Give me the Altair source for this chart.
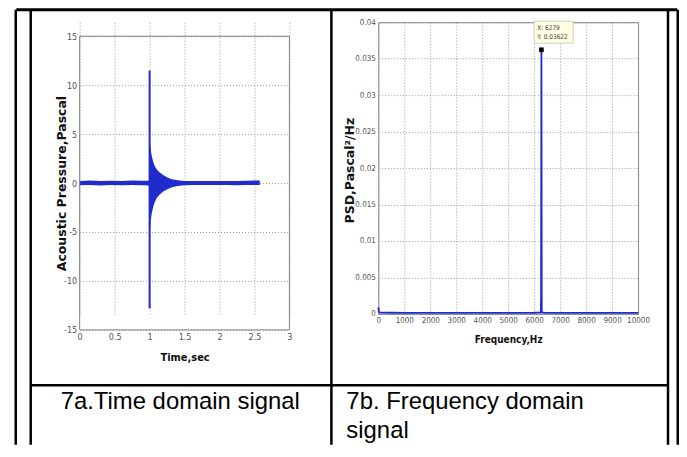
import altair as alt
import pandas as pd

# ---------------- data ----------------
# 7a: acoustic pressure envelope (time, upper, lower)
sig_t = [0.00, 0.15, 0.30, 0.45, 0.60, 0.75, 0.90, 0.995, 1.000, 1.005, 1.015, 1.03, 1.05, 1.07,
         1.10, 1.14, 1.20, 1.26, 1.32, 1.40, 1.50, 1.65, 1.80, 1.95, 2.10, 2.25, 2.40, 2.50, 2.576]
sig_hi = [0.22, 0.25, 0.21, 0.24, 0.22, 0.25, 0.23, 0.24, 5.5, 4.3, 3.5, 2.8, 2.2, 1.8,
          1.4, 1.1, 0.8, 0.55, 0.4, 0.28, 0.22, 0.20, 0.21, 0.20, 0.22, 0.21, 0.24, 0.26, 0.25]
sig_lo = [-0.22, -0.20, -0.24, -0.21, -0.23, -0.20, -0.22, -0.24, -6.0, -4.8, -3.9, -3.1, -2.5, -2.0,
          -1.55, -1.2, -0.85, -0.6, -0.42, -0.3, -0.22, -0.20, -0.21, -0.19, -0.20, -0.22, -0.20, -0.21, -0.20]
spike_t = [1.0]
spike_hi = [11.5]
spike_lo = [-12.8]

# 7b: power spectral density
psd_f = [0, 20, 40, 500, 1000, 2000, 3000, 4000, 5000, 6000, 6255, 6266, 6279, 6292,
         6400, 7000, 8000, 9000, 10000]
psd_v = [0.0009, 0.0003, 0.00018, 0.00016, 0.00015, 0.00015, 0.00015, 0.00015, 0.00015, 0.00016,
         0.0002, 0.0022, 0.03622, 0.0002, 0.00016, 0.00015, 0.00015, 0.00015, 0.00015]
peak_f = [6279]
peak_v = [0.03622]

time_dom = [0, 3]
amp_dom = [-15, 15]
freq_dom = [0, 10000]
psd_dom = [0, 0.04]
time_ticks = [0, 0.5, 1, 1.5, 2, 2.5, 3]
amp_ticks = [-15, -10, -5, 0, 5, 10, 15]
freq_ticks = [0, 1000, 2000, 3000, 4000, 5000, 6000, 7000, 8000, 9000, 10000]
psd_ticks = [0, 0.005, 0.01, 0.015, 0.02, 0.025, 0.03, 0.035, 0.04]

captions = ["7a.Time domain signal", "7b. Frequency domain", "signal"]
tip_lines = ["X: %d" % peak_f[0], "Y: %s" % peak_v[0]]

# ---------------- style ----------------
BLUE = "#1f2bcc"
NARROW = "DejaVu Sans Condensed, Liberation Sans Narrow, sans-serif"
WIDE = "DejaVu Sans, Verdana, sans-serif"
CAPFONT = "Liberation Sans, Arial, sans-serif"
BOX = "#808080"

sig_df = pd.DataFrame({"t": sig_t, "hi": sig_hi, "lo": sig_lo})
spike_df = pd.DataFrame({"t": spike_t, "hi": spike_hi, "lo": spike_lo})
psd_df = pd.DataFrame({"f": psd_f, "p": psd_v})
peak_df = pd.DataFrame({"f": peak_f, "p": peak_v})
one = pd.DataFrame({"k": [0]})


def axis(values, title, label_size, title_font, title_size, **kw):
    return alt.Axis(values=values, tickCount=len(values) + 2, title=title,
                    labelExpr="datum.value + ''", labelFont=NARROW,
                    labelFontSize=label_size, labelColor="#555555", labelPadding=3,
                    labelOverlap=False, labelFlush=False, ticks=False, domain=False,
                    grid=True, gridColor="#9a9a9a", gridDash=[1, 2], gridWidth=1,
                    titleFont=title_font, titleFontSize=title_size, titleFontWeight="bold",
                    titleColor="#111111", titleBaseline="middle", titleAlign="center", **kw)


def hline(y, x1, x2, w=2.5):
    return alt.Chart(one).mark_rule(color="black", strokeWidth=w, strokeCap="butt").encode(
        x=alt.value(x1), x2=alt.value(x2), y=alt.value(y))


def vline(x, y1, y2, w=2.5):
    return alt.Chart(one).mark_rule(color="black", strokeWidth=w, strokeCap="butt").encode(
        x=alt.value(x), y=alt.value(y1), y2=alt.value(y2))


def caption(txt, x, y):
    return alt.Chart(one).mark_text(align="left", baseline="alphabetic", font=CAPFONT,
                                    fontSize=23.9, color="black").encode(
        x=alt.value(x), y=alt.value(y), text=alt.value(txt))


# ---------------- left panel (7a) ----------------
# plot frame spans pixels 14..308 of a 308 px tall view (aligned 14 px below panel 7b)
xl = alt.X("t:Q", scale=alt.Scale(domain=time_dom, nice=False, zero=False),
           axis=axis(time_ticks, "Time,sec", 9, NARROW, 11, titleY=27.5))
yl = alt.Y("hi:Q", scale=alt.Scale(domain=amp_dom, nice=False, range=[308, 14]),
           axis=axis(amp_ticks, "Acoustic Pressure,Pascal", 9, WIDE, 12.5,
                     titleAngle=270, titleX=-18, titleY=161))

frame = alt.Chart(one).mark_rect(fillOpacity=0, stroke=BOX, strokeWidth=1).encode(
    x=alt.datum(time_dom[0]), x2=alt.datum(time_dom[1]),
    y=alt.datum(amp_dom[0]), y2=alt.datum(amp_dom[1]))
area = alt.Chart(sig_df).mark_area(color=BLUE, opacity=1, interpolate="linear").encode(
    x=xl, y=yl, y2="lo:Q")
spike = alt.Chart(spike_df).mark_rule(color=BLUE, strokeWidth=2).encode(
    x="t:Q", y="hi:Q", y2="lo:Q")

# table grid (pixel positions relative to the left plot origin)
TOP, BOT = -12.5, 423
table = [
    hline(TOP, -63.5, 598.25, 3),
    vline(-64, TOP, BOT),
    vline(598.75, TOP, BOT),
    vline(-49, TOP, BOT),
    vline(252, TOP, BOT),
    vline(589, TOP, BOT),
    hline(363.5, -49, 589),
    caption(captions[0], -19, 387),
    caption(captions[1], 267, 387),
    caption(captions[2], 267, 416),
]

left = alt.layer(area, spike, frame, *table).properties(
    width=210, height=308, view=alt.ViewBackground(strokeOpacity=0))

# ---------------- right panel (7b) ----------------
xr = alt.X("f:Q", scale=alt.Scale(domain=freq_dom, nice=False, zero=False),
           axis=axis(freq_ticks, "Frequency,Hz", 8, NARROW, 10, titleY=26))
yr = alt.Y("p:Q", scale=alt.Scale(domain=psd_dom, nice=False),
           axis=axis(psd_ticks, "PSD,Pascal\u00b2/Hz", 8, WIDE, 12.5,
                     titleAngle=270, titleX=-29, titleY=148))

psd_line = alt.Chart(psd_df).mark_line(color=BLUE, strokeWidth=1.8).encode(x=xr, y=yr)
marker = alt.Chart(peak_df).mark_square(color="black", size=22, opacity=1).encode(
    x="f:Q", y="p:Q")
tip_box = alt.Chart(one).mark_rect(fill="#ffffe4", stroke="#c8c8b0", strokeWidth=0.8).encode(
    x=alt.value(156), x2=alt.value(195), y=alt.value(-1), y2=alt.value(21))
tip_t1 = alt.Chart(one).mark_text(align="left", baseline="middle", font=NARROW, fontSize=6.5,
                                  color="#444").encode(x=alt.value(159), y=alt.value(6),
                                                       text=alt.value(tip_lines[0]))
tip_t2 = alt.Chart(one).mark_text(align="left", baseline="middle", font=NARROW, fontSize=6.5,
                                  color="#444").encode(x=alt.value(159), y=alt.value(15),
                                                       text=alt.value(tip_lines[1]))

right = alt.layer(psd_line, marker, tip_box, tip_t1, tip_t2).properties(width=260, height=292)

chart = alt.hconcat(left, right, spacing=89, bounds="flush").properties(
    padding={"left": 5.75, "top": 0, "right": 0, "bottom": -1.25}
).configure(background="white").configure_view(stroke=BOX, strokeWidth=1)

chart.save("out.html", embed_options={"renderer": "svg", "actions": False})
